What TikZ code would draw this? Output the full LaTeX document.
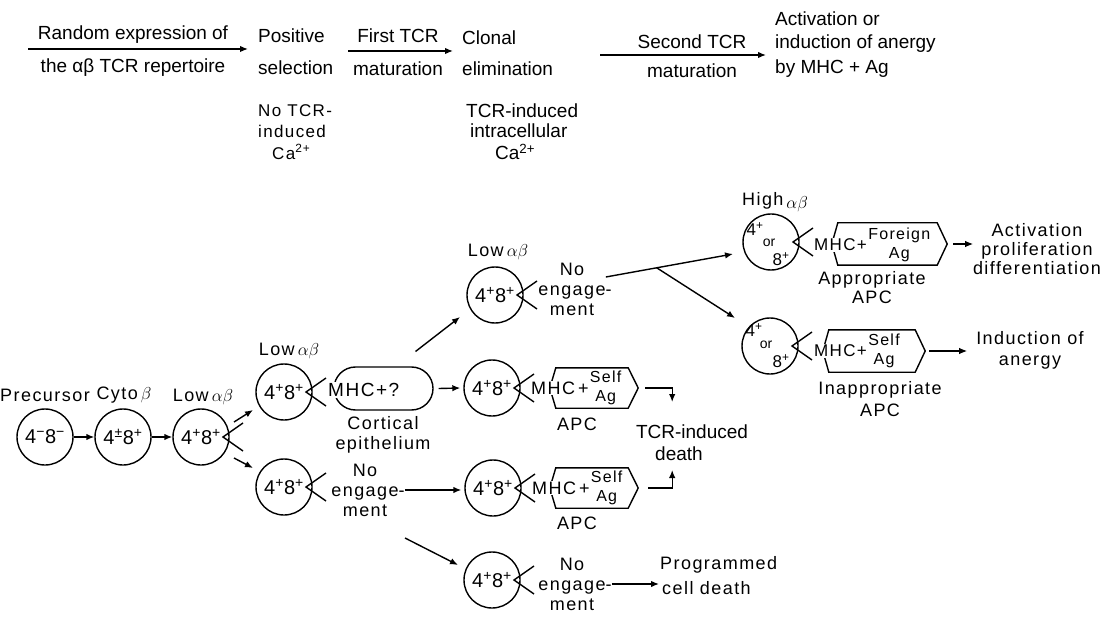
\documentclass[tikz,border=0pt]{standalone}
\usepackage{fontspec}
\setmainfont{Liberation Sans}
\newfontfamily\lbf[LetterSpace=8]{Liberation Sans}
\usetikzlibrary{arrows.meta,calc,shapes.misc}
\newcommand\sps[1]{\textsuperscript{#1}}
\newcommand\stk[2]{\lbf\fontsize{16}{19}\selectfont\begin{tabular}{@{}c@{}}#1\\#2\end{tabular}}
\newcommand\hexof[1]{\draw[ln] ([xshift=6pt]#1.north west) -- ([xshift=-10pt]#1.north east) -- (#1.east) -- ([xshift=-10pt]#1.south east) -- ([xshift=6pt]#1.south west) -- (#1.west) -- cycle;}
\newcommand\rcp[1]{\draw[ln] ([shift={(42,-14)}]#1.center) -- ([shift={(22,0)}]#1.center) -- ([shift={(42,14)}]#1.center);}
\begin{document}
\begin{tikzpicture}[x=1pt,y=-1pt,
 every node/.style={inner sep=0pt},
 tx/.style={font=\fontsize{19}{23}\selectfont},
 tsm/.style={font=\lbf\fontsize{17}{20}\selectfont},
 lb/.style={font=\lbf\fontsize{18}{20}\selectfont, align=center},
 lbn/.style={font=\fontsize{19}{22}\selectfont, align=center},
 cell/.style={circle, draw, line width=1.4pt, minimum size=56pt, font=\fontsize{20}{20}\selectfont},
 sm/.style={font=\fontsize{17}{17}\selectfont},
 ln/.style={line width=1.4pt},
 arr/.style={line width=1.4pt, -{Latex[length=8pt,width=6.5pt]}},
 mhc/.style={fill=white, inner sep=1pt, anchor=west, font=\lbf\fontsize{18}{18}\selectfont},
 stack/.style={anchor=west},
 hexn/.style={minimum height=40pt},
]
\fill[white] (0,0) rectangle (1118,617);
\useasboundingbox (0,0) rectangle (1118,617);

% ---------- top row ----------
\coordinate (a1s) at (28,49); \coordinate (a1e) at (248,49);
\draw[arr] (a1s) -- (a1e);
\node[tx] (r1) at (133,35) {Random expression of};
\node[tx] (r2) at (133,68) {the αβ TCR repertoire};
\node[tx, anchor=west] (ps1) at (258,36) {Positive};
\node[tx, anchor=west] (ps2) at (258,68) {selection};
\coordinate (a2s) at (348,51); \coordinate (a2e) at (453,51);
\draw[arr] (a2s) -- (a2e);
\node[tx] (f1) at (398,36) {First TCR};
\node[tx] (f2) at (398,69) {maturation};
\node[tx, anchor=west] (ce1) at (462,38) {Clonal};
\node[tx, anchor=west] (ce2) at (462,69) {elimination};
\coordinate (a3s) at (600,55); \coordinate (a3e) at (766,55);
\draw[arr] (a3s) -- (a3e);
\node[tx] (s1) at (692,42) {Second TCR};
\node[tx] (s2) at (692,71) {maturation};
\node[tx, anchor=west] (ac1) at (775,19) {Activation or};
\node[tx, anchor=west] (ac2) at (775,44) {induction of anergy};
\node[tx, anchor=west] (ac3) at (775,69) {by MHC + Ag};
\node[tsm, anchor=west] (n1) at (258,111) {No TCR-};
\node[tsm, anchor=west] (n2) at (258,131) {induced};
\node[tsm, anchor=west] (n3) at (272,152) {Ca\sps{2+}};
\node[tx, anchor=west] (t1) at (466,111) {TCR-induced};
\node[tx, anchor=west] (t2) at (470,131) {intracellular};
\node[tx, anchor=west] (t3) at (495,152) {Ca\sps{2+}};

% ---------- cells ----------
\node[cell] (c1) at (45,437) {4\sps{−}8\sps{−}};
\node[lb] (l1) at (45,395) {Precursor};
\node[cell] (c2) at (123,437) {4\sps{±}8\sps{+}};
\node[lb] (l2) at (124,395) {Cyto\,$\beta$};
\node[cell] (c3) at (201,437) {4\sps{+}8\sps{+}};
\node[lb] (l3) at (203,397) {Low\,$\alpha\beta$};
\rcp{c3}

\node[cell] (c4) at (284,392) {4\sps{+}8\sps{+}};
\node[lb] (l4) at (289,351) {Low\,$\alpha\beta$};
\rcp{c4}
\node[draw, ln, rounded rectangle, minimum width=99pt, minimum height=43pt] (cort) at (383.5,388.5) {};
\node[mhc, font=\lbf\fontsize{19}{19}\selectfont] (mq) at (327,390) {MHC+?};
\node[lb] (cl) at (383,435) {Cortical\\epithelium};

\node[cell] (c5) at (284,487) {4\sps{+}8\sps{+}};
\rcp{c5}
\node[lb] (ne5) at (365,490) {No\\engage\rlap{-}\\ment};

\node[cell] (c6) at (495,295) {4\sps{+}8\sps{+}};
\node[lb] (l6) at (498,252) {Low\,$\alpha\beta$};
\rcp{c6}
\node[lb] (ne6) at (572,289) {No\\engage\rlap{-}\\ment};

\node[cell] (c7) at (492,388) {4\sps{+}8\sps{+}};
\rcp{c7}
\node[hexn, minimum width=88pt] (h7) at (594,388) {};
\hexof{h7}
\node[mhc] (m7) at (530,388) {MHC\,+};
\node[stack] (s7) at (m7.east) {\stk{Self}{Ag}};
\node[lb] (p7) at (577,424) {APC};

\node[cell] (c8) at (493,488) {4\sps{+}8\sps{+}};
\rcp{c8}
\node[hexn, minimum width=88pt] (h8) at (594,488) {};
\hexof{h8}
\node[mhc] (m8) at (531,488) {MHC\,+};
\node[stack] (s8) at (m8.east) {\stk{Self}{Ag}};
\node[lb] (p8) at (577,523) {APC};

\node[lbn] (td1) at (692,432) {TCR-induced};
\node[lbn] (td2) at (679,454) {death};

\node[cell] (c9) at (492,580) {4\sps{+}8\sps{+}};
\rcp{c9}
\node[lb] (ne9) at (572,584) {No\\engage\rlap{-}\\ment};
\node[lb, anchor=west] (prog1) at (660,565) {Programmed};
\node[lb, anchor=west] (prog2) at (662,588) {cell death};

\node[cell] (c10) at (771,242) {};
\node[sm] (c10a) at (755,229) {4\sps{+}};
\node[font=\fontsize{14}{14}\selectfont] (c10b) at (769,243) {or};
\node[sm] (c10c) at (781,259) {8\sps{+}};
\node[lb] (l10) at (775,202) {High\,\raisebox{-3pt}{$\alpha\beta$}};
\rcp{c10}
\node[hexn, minimum width=115pt, minimum height=42pt] (h10) at (889.5,244) {};
\hexof{h10}
\node[mhc, font=\lbf\fontsize{17}{17}\selectfont] (m10) at (813,245) {MHC+};
\node[stack] (s10) at (m10.east) {\stk{Foreign}{Ag}};
\node[lb, font=\lbf\fontsize{18}{19}\selectfont] (ap10) at (872,288) {Appropriate\\APC};
\node[lb, font=\lbf\fontsize{18}{19}\selectfont] (act) at (1037,249) {Activation\\proliferation\\differentiation};

\node[cell] (c11) at (770,346) {};
\node[sm] (c11a) at (754,330) {4\sps{+}};
\node[font=\fontsize{14}{14}\selectfont] (c11b) at (766,345) {or};
\node[sm] (c11c) at (781,361) {8\sps{+}};
\rcp{c11}
\node[hexn, minimum width=102pt, minimum height=42pt] (h11) at (874,351) {};
\hexof{h11}
\node[mhc, font=\lbf\fontsize{17}{17}\selectfont] (m11) at (813,351) {MHC+};
\node[stack] (s11) at (m11.east) {\stk{Self}{Ag}};
\node[lb, font=\lbf\fontsize{18}{22}\selectfont] (ap11) at (880,399) {Inappropriate\\APC};
\node[lb, font=\lbf\fontsize{18}{21}\selectfont] (ind) at (1030,350) {Induction of\\anergy};

% ---------- connectors ----------
\draw[arr] (c1.east) -- (c2.west);
\draw[arr] (c2.east) -- (c3.west);
\draw[arr] ([shift={(33,-15)}]c3.center) -- ([shift={(-31,18)}]c4.center);
\draw[arr] ([shift={(33,21)}]c3.center) -- ([shift={(-31,-19)}]c5.center);
\draw[arr] ([xshift=5pt]cort.east) -- ([xshift=-3pt]c7.west);
\draw[arr] ([shift={(32,-37)}]cort.center) -- ([shift={(-35,22)}]c6.center);
\coordinate (s6) at ([shift={(0,-12)}]ne6.east);
\coordinate (e10) at ([shift={(-38,12)}]c10.center);
\draw[arr] (s6) -- (e10);
\coordinate (b6) at ($(s6)!0.4!(e10)$);
\draw[arr] (b6) -- ([shift={(-35,-28)}]c11.center);
\draw[arr] ([xshift=7pt]h7.east) -- ++(27,0) -- ++(0,14);
\draw[arr] ([xshift=10pt]h8.east) -- ++(24,0) -- ++(0,-18);
\draw[arr] ([xshift=6pt]ne5.east) -- ([xshift=-3pt]ne5.east -| c8.west);
\draw[arr] ([shift={(40,48)}]ne5.center) -- ([shift={(-34,-15)}]c9.center);
\draw[arr] ([xshift=6pt]ne9.east) -- ([xshift=-3pt]ne9.east -| prog2.west);
\draw[arr] ([xshift=6pt]h10.east) -- ++(20,0);
\draw[arr] ([xshift=4pt]h11.east) -- ++(38,0);
\end{tikzpicture}
\end{document}
